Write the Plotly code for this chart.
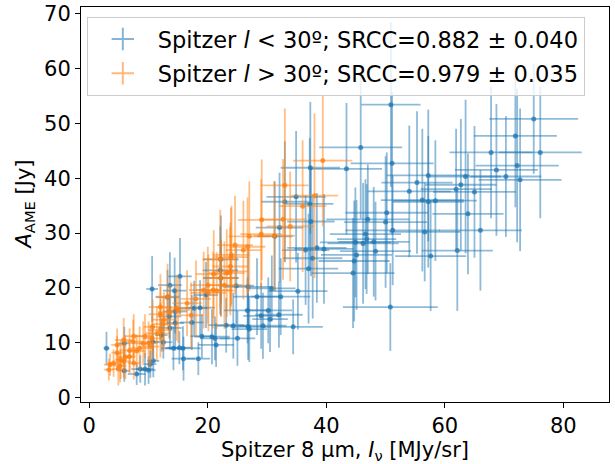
import plotly.graph_objects as go

# ---- Data: Spitzer l < 30 deg (blue) ----
blue_x = [2.9, 5.9, 5.9, 8.6, 9.4, 10.0, 8.0, 10.3, 10.8, 12.2, 10.7, 12.5, 14.2, 15.2, 15.8, 15.9, 18.4,
          20.7, 21.4, 21.2, 19.0, 13.5, 14.5, 14.5, 17.3, 13.6, 13.2, 10.6, 13.6, 14.4, 15.3, 17.7, 18.7,
          19.7, 22.1, 22.2, 22.2, 23.1, 24.3, 26.8, 29.3, 34.4, 27.0, 24.8, 26.8, 28.3, 32.3, 30.8, 35.2,
          26.7, 30.2, 32.0, 30.5, 29.0, 31.3, 32.1, 36.5, 33.0, 34.9, 37.3, 37.2, 37.4, 38.4, 39.6, 37.7,
          37.0, 43.4, 45.8, 50.9, 51.1, 47.0, 50.2, 50.0, 51.2, 56.6, 46.6, 44.9, 46.8, 46.2, 48.0, 48.3,
          45.1, 44.7, 44.5, 50.8, 57.6, 62.1, 54.0, 55.3, 57.2, 56.2, 57.2, 58.4, 61.9, 62.7, 63.5, 65.0,
          63.9, 66.0, 67.8, 68.7, 70.3, 71.9, 72.2, 72.7, 75.0, 76.1, 25.0]
blue_y = [9.0, 9.9, 4.9, 5.2, 5.2, 5.0, 4.3, 6.1, 6.7, 11.4, 10.2, 10.1, 9.0, 9.1, 9.0, 7.1, 7.1,
          11.1, 9.6, 10.8, 11.2, 14.8, 15.7, 13.6, 13.7, 12.7, 18.3, 19.8, 20.5, 19.5, 22.1, 16.3, 16.4,
          18.7, 23.2, 25.2, 21.8, 13.2, 13.1, 12.9, 13.1, 12.9, 12.5, 20.4, 20.2, 18.4, 18.4, 19.9, 19.4,
          15.9, 15.9, 15.1, 14.3, 14.9, 29.4, 31.0, 26.9, 35.7, 36.6, 41.9, 35.3, 32.1, 27.3, 27.1, 25.4,
          23.5, 41.7, 45.6, 53.4, 42.7, 32.5, 33.7, 32.0, 30.5, 30.2, 29.8, 28.3, 28.9, 28.1, 28.4, 26.7,
          26.0, 24.9, 22.7, 16.5, 25.8, 26.8, 37.6, 39.2, 40.5, 36.0, 35.7, 35.9, 38.0, 38.8, 40.3, 37.5,
          33.5, 30.5, 44.7, 41.5, 40.3, 47.7, 42.3, 39.7, 50.8, 44.7, 10.8]
blue_ex = [0.5, 1.0, 0.8, 1.5, 1.5, 1.2, 1.5, 1.0, 1.0, 1.0, 1.0, 1.5, 2.0, 2.0, 3.0, 2.0, 2.0,
           3.0, 3.0, 2.5, 2.0, 2.0, 2.0, 1.5, 2.0, 2.0, 2.0, 1.0, 2.0, 2.0, 2.0, 2.5, 2.5,
           2.0, 3.0, 3.0, 3.0, 3.0, 3.0, 3.0, 4.0, 5.0, 3.0, 3.0, 4.0, 4.0, 5.0, 4.0, 5.0,
           4.0, 4.0, 4.0, 3.0, 3.0, 3.0, 4.0, 4.0, 4.0, 5.0, 5.0, 4.0, 4.0, 5.0, 5.0, 5.0,
           5.0, 6.0, 7.0, 5.0, 7.0, 7.0, 7.0, 7.0, 8.0, 6.0, 6.0, 6.0, 5.0, 6.0, 6.0, 6.0,
           6.0, 6.0, 7.0, 8.0, 6.0, 6.0, 7.0, 6.0, 7.0, 7.0, 6.0, 7.0, 6.0, 6.0, 6.0, 7.0,
           6.0, 7.0, 7.0, 7.0, 6.0, 7.0, 7.0, 7.0, 7.5, 7.0, 3.0]
blue_ey = [3.0, 3.0, 2.0, 2.5, 3.0, 2.5, 2.0, 2.5, 3.0, 3.0, 3.0, 3.0, 4.0, 3.0, 4.0, 4.0, 3.0,
           5.0, 4.0, 4.0, 4.0, 4.0, 4.0, 5.0, 5.0, 4.0, 5.0, 6.0, 6.0, 6.0, 7.0, 5.0, 5.0,
           6.0, 8.0, 8.0, 7.0, 5.0, 6.0, 6.0, 6.0, 5.0, 6.0, 7.0, 7.0, 7.0, 7.0, 6.0, 7.0,
           6.0, 6.0, 6.0, 6.0, 6.0, 10.0, 10.0, 10.0, 11.0, 12.0, 12.0, 12.0, 10.0, 10.0, 10.0, 11.0,
           10.0, 12.0, 13.0, 15.0, 13.0, 10.0, 11.0, 12.0, 10.0, 9.0, 10.0, 10.0, 10.0, 11.0, 10.0, 9.0,
           10.0, 11.0, 10.0, 8.0, 10.0, 11.0, 12.0, 13.0, 12.0, 13.0, 12.0, 11.0, 11.0, 12.0, 14.0, 12.0,
           11.0, 11.0, 12.0, 12.0, 11.0, 13.0, 14.0, 13.0, 10.0, 12.0, 5.0]

# ---- Data: Spitzer l > 30 deg (orange) ----
orange_x = [3.5, 4.1, 3.3, 4.9, 5.2, 5.3, 5.8, 6.1, 4.7, 4.7, 5.8, 6.8, 6.8, 8.0, 7.5, 7.5, 7.4, 9.4,
            10.6, 10.0, 10.3, 9.1, 10.7, 12.0, 11.4, 12.6, 12.0, 13.6, 14.7, 12.0, 15.0, 16.5, 13.2, 12.5,
            19.3, 20.1, 21.5, 22.2, 23.8, 23.8, 22.1, 23.9, 24.0, 24.6, 26.0, 26.7, 27.0, 29.0, 31.2, 29.1,
            32.7, 33.9, 33.0, 36.0, 38.0, 39.4, 20.0, 18.0, 17.2, 8.5, 21.0, 22.8, 20.9, 23.2]
orange_y = [6.0, 6.3, 5.1, 5.2, 5.8, 6.9, 6.6, 7.4, 9.6, 8.2, 10.5, 7.5, 8.6, 8.5, 6.3, 11.2, 10.2, 11.2,
            10.8, 9.9, 9.3, 9.9, 12.9, 12.3, 11.7, 14.2, 15.2, 15.6, 16.4, 16.5, 16.0, 17.2, 18.4, 13.4,
            19.6, 19.1, 19.5, 21.8, 23.0, 23.9, 25.2, 25.6, 26.0, 27.8, 26.9, 27.5, 29.4, 29.8, 29.5, 32.4,
            32.5, 31.2, 38.7, 34.9, 36.8, 43.2, 20.5, 18.0, 15.0, 9.0, 22.5, 20.5, 19.6, 22.7]
orange_ex = [1.0, 1.0, 0.8, 1.0, 1.0, 1.0, 1.2, 1.2, 1.0, 1.0, 1.5, 1.0, 1.5, 1.5, 1.0, 1.5, 1.5, 1.5,
             1.5, 1.5, 1.5, 1.5, 1.5, 2.0, 2.0, 2.0, 2.0, 2.0, 2.0, 2.0, 2.0, 2.5, 2.0, 2.0,
             2.5, 3.0, 3.0, 3.0, 3.0, 3.0, 3.0, 3.0, 3.0, 3.0, 3.0, 3.0, 3.5, 3.5, 3.5, 4.0,
             4.0, 4.0, 4.0, 4.0, 4.0, 5.0, 3.0, 2.5, 2.0, 1.5, 3.0, 3.0, 3.0, 3.0]
orange_ey = [2.0, 2.5, 2.0, 3.0, 3.0, 3.5, 3.0, 4.0, 3.0, 3.0, 4.0, 3.0, 4.0, 3.0, 3.0, 4.0, 4.0, 4.0,
             4.0, 4.0, 4.0, 4.0, 5.0, 5.0, 5.0, 5.0, 5.0, 5.0, 6.0, 6.0, 6.0, 6.0, 6.0, 5.0,
             7.0, 7.0, 7.0, 7.0, 8.0, 8.0, 9.0, 9.0, 9.0, 9.0, 9.0, 9.0, 10.0, 10.0, 10.0, 11.0,
             11.0, 10.0, 14.0, 12.0, 15.0, 12.0, 7.0, 7.0, 6.0, 4.0, 8.0, 8.0, 7.0, 8.0]

labels = ["Spitzer <i>l</i> &lt; 30º; SRCC=0.882 ± 0.040",
          "Spitzer <i>l</i> &gt; 30º; SRCC=0.979 ± 0.035"]
x_ticks = [0, 20, 40, 60, 80]
y_ticks = [0, 10, 20, 30, 40, 50, 60, 70]
x_title = "Spitzer 8 μm, <i>I</i><sub>ν</sub> [MJy/sr]"
y_title = "<i>A</i><sub>AME</sub> [Jy]"

FONT = "DejaVu Sans"
FS = 21
LEG_FS = 22.5

fig = go.Figure()
series = [
    (blue_x, blue_y, blue_ex, blue_ey, "31,119,180", labels[0], "g1"),
    (orange_x, orange_y, orange_ex, orange_ey, "255,127,14", labels[1], "g2"),
]
for xs, ys, exs, eys, rgb, name, grp in series:
    fig.add_trace(go.Scatter(
        x=xs, y=ys, mode="markers", name=name, showlegend=False, legendgroup=grp,
        marker=dict(size=5, color=f"rgba({rgb},0.75)", line=dict(width=0)),
        error_x=dict(type="data", array=exs, visible=True, thickness=1.8, width=0,
                     color=f"rgba({rgb},0.5)"),
        error_y=dict(type="data", array=eys, visible=True, thickness=1.8, width=0,
                     color=f"rgba({rgb},0.5)"),
    ))
# legend-only entries showing an error-bar cross
for xs, ys, exs, eys, rgb, name, grp in series:
    fig.add_trace(go.Scatter(
        x=[None], y=[None], mode="markers", name=name, legendgroup=grp,
        marker=dict(symbol="cross-thin", size=22, color=f"rgba({rgb},0.55)",
                    line=dict(width=2, color=f"rgba({rgb},0.55)")),
    ))

axis_common = dict(showline=True, linecolor="black", linewidth=1, mirror=True,
                   ticks="outside", ticklen=5, tickwidth=1, tickcolor="black",
                   showgrid=False, zeroline=False, automargin=False,
                   tickfont=dict(family=FONT, size=FS, color="black"))

fig.update_xaxes(range=[-1.4, 87.7], tickvals=x_ticks, **axis_common)
fig.update_yaxes(range=[-0.8, 71.2], tickvals=y_ticks, **axis_common)

fig.add_annotation(text=x_title, xref="paper", yref="paper", x=0.5, y=0, yshift=-49,
                   xanchor="center", yanchor="middle", showarrow=False,
                   font=dict(family=FONT, size=FS, color="black"))
fig.add_annotation(text=y_title, xref="paper", yref="paper", x=0, y=0.5, xshift=-57,
                   xanchor="center", yanchor="middle", textangle=-90, showarrow=False,
                   font=dict(family=FONT, size=FS, color="black"))

fig.update_layout(
    width=615, height=464,
    margin=dict(l=81, r=6, t=7, b=62),
    plot_bgcolor="white", paper_bgcolor="white",
    font=dict(family=FONT, size=FS, color="black"),
    legend=dict(x=0.011, y=0.975, xanchor="left", yanchor="top",
                bgcolor="rgba(255,255,255,0.8)", bordercolor="#cccccc", borderwidth=1,
                traceorder="grouped", tracegroupgap=2,
                font=dict(family=FONT, size=LEG_FS, color="black"), itemwidth=60),
)

fig.write_html("out.html", config={"displayModeBar": False},
               post_script="document.body.style.margin='0';")
